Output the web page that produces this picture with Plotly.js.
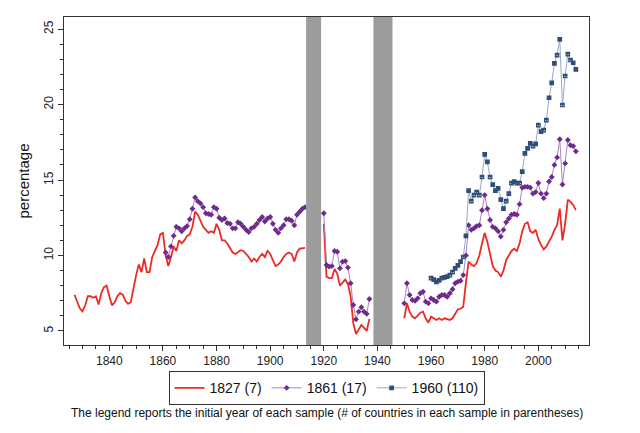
<!DOCTYPE html>
<html>
<head>
<meta charset="utf-8">
<script src="https://cdn.plot.ly/plotly-3.0.1.min.js"></script>
<style>html,body{margin:0;padding:0;background:#fff;}#chart{width:640px;height:433px;}</style>
</head>
<body>
<div id="chart"></div>
<script>
// ---- data ----
var seriesNames = ["1827 (7)", "1861 (17)", "1960 (110)"];
var caption = "The legend reports the initial year of each sample (# of countries in each sample in parentheses)";
var yTitle = "percentage";

// war periods (grey bands), start / end years
var bandStart = [1913.4, 1938.5];
var bandEnd = [1919.0, 1945.6];

// 1827 sample (red) — three segments
var red1Start = 1827;
var red1 = [7.4, 6.9, 6.5, 6.3, 6.7, 7.3, 7.3, 7.2, 7.3, 6.75,      // 1827-1836
            7.5, 7.9, 8.0, 7.3, 6.7, 6.9, 7.3, 7.5, 7.4, 7.0,        // 1837-1846
            6.8, 6.9, 7.9, 8.7, 9.4, 8.9, 9.8, 8.9, 8.9, 9.9,        // 1847-1856
            10.3, 10.7, 11.4, 11.5, 10.0, 9.3, 9.9, 10.6, 10.3, 11.0, // 1857-1866
            10.8, 11.0, 11.3, 11.4, 11.9, 12.9, 12.7, 12.3, 11.9, 11.7, // 1867-1876
            11.5, 11.6, 11.5, 12.1, 11.7, 11.0, 11.0, 10.8, 10.5, 10.2, // 1877-1886
            10.1, 10.2, 10.35, 10.3, 10.1, 9.9, 9.6, 9.8, 9.6, 9.9,   // 1887-1896
            10.1, 9.9, 10.3, 10.1, 9.7, 9.3, 9.4, 9.6, 9.9, 10.1,     // 1897-1906
            10.2, 10.1, 9.6, 10.2, 10.45, 10.5, 10.5];                // 1907-1913
var red2Start = 1920;
var red2 = [12.1, 8.6, 8.5, 8.5, 9.1, 8.8, 8.0, 8.2, 8.4, 8.1,
            7.3, 5.5, 4.8, 5.1, 5.4, 5.2, 5.0, 5.8];
var red3Start = 1950;
var red3 = [5.84, 6.83, 6.28, 5.95, 5.84, 6.06, 6.21, 6.28, 5.84, 5.55,  // 1950-1959
            5.95, 5.84, 5.73, 5.84, 5.73, 5.84, 5.77, 5.73, 5.84, 6.12,  // 1960-1969
            6.43, 6.47, 6.6, 8.2, 9.6, 9.4, 9.3, 9.5, 10.0, 10.8,        // 1970-1979
            11.5, 10.9, 10.0, 9.3, 9.0, 8.9, 8.6, 9.0, 9.7, 10.0,        // 1980-1989
            10.3, 10.45, 10.3, 10.8, 11.6, 12.1, 12.2, 11.6, 11.5, 11.7, // 1990-1999
            11.1, 10.7, 10.4, 10.6, 10.9, 11.25, 11.7, 12.0, 13.1, 11.0, // 2000-2009
            12.1, 13.7, 13.55, 13.35, 13.0];                             // 2010-2014

// 1861 sample (purple)
var pur1Start = 1861;
var pur1 = [10.2, 9.9, 10.6, 11.3, 11.9, 11.8, 11.6, 11.8, 11.95, 12.4,   // 1861-1870
            13.1, 13.85, 13.6, 13.45, 13.2, 12.8, 12.75, 12.7, 13.2, 13.1, // 1871-1880
            12.5, 12.35, 12.45, 12.15, 12.1, 11.8, 11.8, 12.2, 12.1, 11.9, // 1881-1890
            11.7, 11.55, 11.8, 11.9, 12.1, 12.35, 12.55, 12.25, 12.45, 12.55, // 1891-1900
            12.1, 11.7, 11.5, 11.8, 12.0, 12.4, 12.4, 12.3, 12.0, 12.7,    // 1901-1910
            12.9, 13.1, 13.2];                                            // 1911-1913
var pur2Start = 1920;
var pur2 = [12.8, 9.37, 9.26, 9.3, 10.3, 10.25, 9.15, 9.59, 9.63, 9.2,
            8.16, 6.72, 5.77, 6.28, 6.57, 6.28, 6.13, 7.12];
var pur3Start = 1950;
var pur3 = [6.83, 8.16, 7.38, 7.05, 6.99, 7.16, 7.5, 7.6, 6.94, 6.83,     // 1950-1959
            7.16, 7.05, 6.94, 7.27, 7.38, 7.38, 7.27, 7.5, 7.76, 8.16,     // 1960-1969
            8.27, 8.33, 8.7, 10.0, 12.0, 11.7, 11.8, 11.95, 12.0, 13.0,    // 1970-1979
            14.0, 13.1, 12.35, 11.9, 11.8, 11.6, 11.25, 11.7, 12.2, 12.45, // 1980-1989
            12.7, 12.75, 12.7, 13.4, 14.5, 14.55, 14.55, 14.5, 14.1, 14.2, // 1990-1999
            14.8, 14.1, 13.8, 14.1, 14.9, 15.2, 16.0, 16.5, 17.7, 14.7,    // 2000-2009
            16.1, 17.65, 17.3, 17.25, 16.9];                              // 2010-2014

// 1960 sample (blue)
var blueStart = 1960;
var blue = [8.5, 8.4, 8.25, 8.35, 8.5, 8.55, 8.6, 8.7, 8.9, 9.15,        // 1960-1969
            9.35, 9.6, 9.9, 11.3, 14.3, 13.6, 14.0, 14.2, 14.0, 15.2,     // 1970-1979
            16.7, 16.2, 15.2, 14.7, 14.3, 14.45, 13.7, 13.1, 13.6, 14.1,  // 1980-1989
            14.8, 14.9, 14.8, 14.8, 15.55, 16.77, 17.1, 17.43, 17.25, 17.39, // 1990-1999
            18.64, 18.2, 18.31, 18.97, 20.45, 21.44, 22.73, 23.28, 24.32, 19.97, // 2000-2009
            21.89, 23.34, 22.95, 22.77, 22.33];                           // 2010-2014

// ---- build traces ----
function joinSegments(segs) {
  var xs = [], ys = [];
  segs.forEach(function (s, k) {
    if (k > 0) { xs.push(s[0] - 0.5); ys.push(null); }
    for (var i = 0; i < s[1].length; i++) { xs.push(s[0] + i); ys.push(s[1][i]); }
  });
  return {x: xs, y: ys};
}
var r = joinSegments([[red1Start, red1], [red2Start, red2], [red3Start, red3]]);
var p = joinSegments([[pur1Start, pur1], [pur2Start, pur2], [pur3Start, pur3]]);
var b = joinSegments([[blueStart, blue]]);

var traces = [
  {x: r.x, y: r.y, name: seriesNames[0], type: 'scatter', mode: 'lines',
   connectgaps: false, line: {color: '#ee2a24', width: 1.8}},
  {x: p.x, y: p.y, name: seriesNames[1], type: 'scatter', mode: 'lines+markers',
   connectgaps: false, line: {color: '#a883c4', width: 1},
   marker: {symbol: 'diamond', size: 4.5, color: '#6e2a8e'}},
  {x: b.x, y: b.y, name: seriesNames[2], type: 'scatter', mode: 'lines+markers',
   connectgaps: false, line: {color: '#98aac4', width: 1},
   marker: {symbol: 'square-x-open', size: 3.5, color: '#2e4e78', line: {width: 1.2, color: '#2e4e78'}}}
];

var shapes = bandStart.map(function (s, i) {
  return {type: 'rect', xref: 'x', yref: 'paper', x0: s, x1: bandEnd[i], y0: 0, y1: 1,
          fillcolor: '#9c9c9c', line: {width: 0}, layer: 'above'};
});

var font = 'Liberation Sans, Arial, sans-serif';
var layout = {
  width: 640, height: 433,
  margin: {l: 64, r: 51, t: 17, b: 88},
  paper_bgcolor: '#ffffff', plot_bgcolor: '#ffffff',
  font: {family: font, size: 12, color: '#222'},
  showlegend: true,
  legend: {orientation: 'h', x: 0.5, xanchor: 'center', y: -0.08, yanchor: 'top',
           bordercolor: '#333', borderwidth: 1, font: {size: 14, family: font, color: '#111'},
           itemwidth: 30},
  xaxis: {range: [1823.1, 2018.9], showgrid: false, zeroline: false,
          showline: true, mirror: true, linecolor: '#333', linewidth: 1,
          ticks: 'outside', ticklen: 5, tickcolor: '#333', dtick: 20, tick0: 1840,
          tickfont: {size: 12, family: font, color: '#222'},
          minor: {dtick: 5, tick0: 1840, ticks: 'outside', ticklen: 3, tickcolor: '#333', showgrid: false}},
  yaxis: {range: [4.07, 25.8], showgrid: false, zeroline: false,
          showline: true, mirror: true, linecolor: '#333', linewidth: 1,
          ticks: 'outside', ticklen: 5, tickcolor: '#333', dtick: 5, tick0: 5, tickangle: -90,
          tickfont: {size: 12, family: font, color: '#222'},
          title: {text: yTitle, font: {size: 15, family: font, color: '#111'}, standoff: 8},
          minor: {dtick: 1, ticks: 'outside', ticklen: 3, tickcolor: '#333', showgrid: false}},
  shapes: shapes,
  annotations: [{text: caption, xref: 'paper', yref: 'paper', x: 0.5, y: -0.207,
                 xanchor: 'center', yanchor: 'middle', showarrow: false,
                 font: {size: 12, family: font, color: '#111'}}]
};

Plotly.newPlot('chart', traces, layout, {displayModeBar: false, staticPlot: true});
</script>
</body>
</html>
